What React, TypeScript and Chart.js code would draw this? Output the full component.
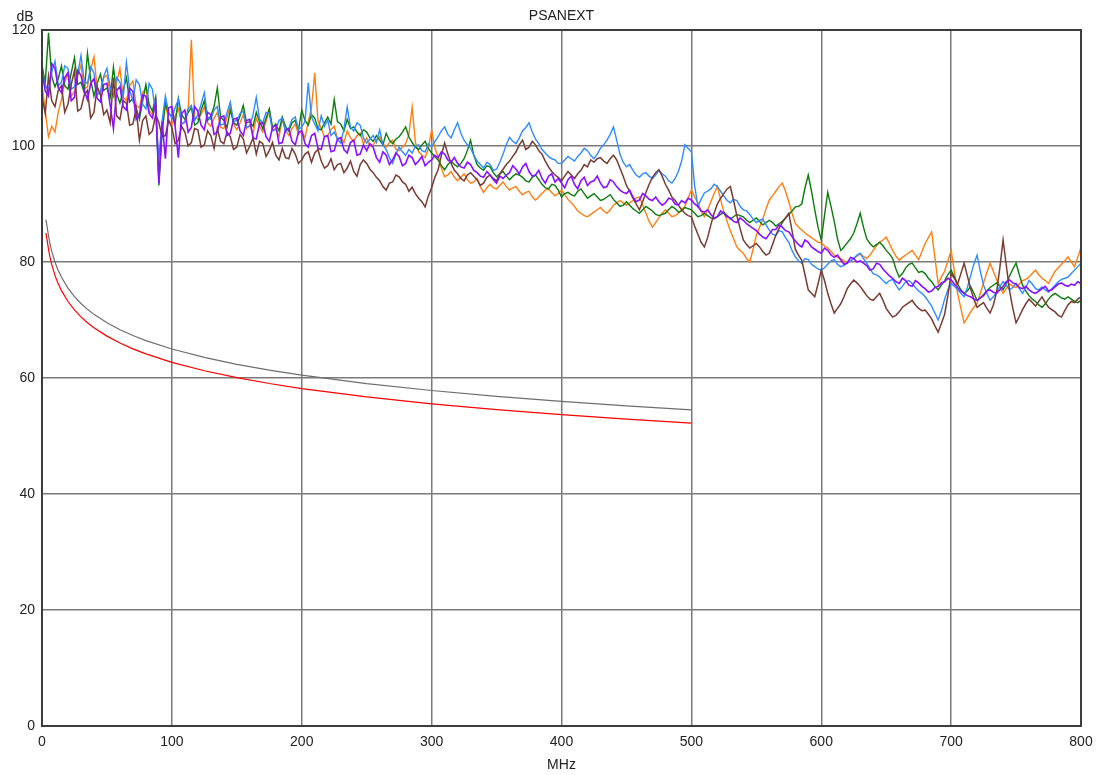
import { useEffect, useRef } from "react";
import { Chart, registerables } from "chart.js";

Chart.register(...registerables);

// ---- data ----
const STEP_MHZ = 2.5; // series sampled every 2.5 MHz from 0 to 800 MHz

const PURPLE = [
  112.8, 109.5, 108.6, 114.2, 113.4, 110.0, 109.2, 111.8, 112.6, 107.8, 108.4, 113.0, 112.2, 109.6, 108.0, 110.8, 111.6, 108.2, 107.6, 110.6,
  110.8, 107.0, 103.0, 109.6, 110.2, 106.8, 106.2, 110.0, 109.4, 104.6, 105.4, 108.8, 108.6, 105.6, 104.8, 107.4, 93.6, 104.2, 97.8, 106.6,
  106.8, 103.4, 98.0, 105.6, 106.2, 102.4, 103.2, 106.8, 106.0, 103.6, 102.8, 105.8, 105.4, 102.0, 102.4, 105.0, 105.2, 101.8, 102.2, 104.6,
  104.8, 102.6, 101.8, 104.4, 104.6, 101.4, 101.2, 103.8, 104.0, 101.6, 100.8, 103.2, 103.6, 100.4, 100.6, 102.8, 103.0, 100.8, 100.2, 102.4,
  102.6, 100.4, 99.8, 101.8, 102.2, 99.6, 99.4, 101.6, 101.8, 99.0, 99.2, 101.2, 101.4, 99.4, 98.8, 100.6, 101.0, 98.4, 98.6, 100.2,
  99.2, 100.4, 99.8, 98.0, 97.2, 99.0, 98.4, 96.8, 97.6, 98.8, 98.2, 96.6, 97.0, 98.4, 98.0, 96.8, 97.4, 98.2, 96.6, 97.2,
  97.6, 98.4, 98.0, 99.0, 98.6, 97.6, 97.2, 98.0, 97.0, 96.4, 96.2, 97.2, 96.8, 95.8, 95.4, 94.8, 94.6, 95.6, 95.0, 94.2,
  93.6, 94.8, 94.4, 95.0, 95.4, 96.6, 96.0, 95.2, 96.4, 97.0, 95.6, 94.8, 95.0, 95.8, 94.4, 93.6, 94.8, 95.2, 93.8, 94.4,
  93.6, 92.8, 94.2, 94.8, 93.4, 92.6, 94.0, 94.6, 93.2, 93.8, 94.0, 94.8, 93.6, 92.8, 93.0, 94.2, 93.8, 93.0, 92.4, 92.0,
  91.8, 92.4, 91.2, 90.4, 90.7, 91.8, 91.4, 90.8, 90.6, 91.2, 90.4, 89.8, 90.2, 91.0, 90.8, 90.0, 89.8, 90.6, 90.2, 91.0,
  90.7, 90.0, 89.6, 88.8, 88.6, 89.0, 88.2, 87.6, 87.8, 88.8, 88.4, 87.8, 87.6, 87.0, 86.8, 87.6, 87.2, 86.6, 86.2, 85.8,
  85.4, 84.8, 84.3, 84.0, 84.8, 85.6, 85.6, 86.4, 86.0, 85.4, 85.2, 84.4, 83.6, 83.0, 82.6, 83.8, 83.4, 82.6, 82.2, 81.8,
  81.5, 82.4, 82.0, 81.2, 80.8, 81.2, 80.4, 79.6, 79.8, 80.8, 80.6, 80.0, 80.2, 79.8, 79.4, 78.6, 78.8, 79.8, 79.6, 78.8,
  78.2, 77.6, 77.2, 76.6, 76.3, 77.2, 76.8, 76.0, 75.8, 76.8, 76.4, 75.8, 75.4, 74.8, 75.0, 75.6, 75.8, 76.4, 76.6, 77.2,
  76.9, 76.2, 75.6, 75.0, 74.6, 74.2, 74.0, 73.6, 73.4, 73.8, 74.2, 75.0, 75.2, 74.8, 74.6, 75.2, 75.8, 76.6, 76.9, 76.4,
  76.2, 75.6, 75.4, 75.8, 75.2, 74.8, 74.6, 75.0, 75.4, 75.8, 75.0, 75.2, 75.7, 76.2, 76.4, 76.0, 75.8, 76.2, 76.0, 76.6,
  76.3,
];

const BROWN = [
  108.5, 105.6, 112.0, 107.8, 106.8, 109.6, 110.4, 105.8, 107.2, 110.6, 113.0, 106.0, 106.4, 108.8, 109.6, 104.8, 105.8, 110.2, 108.8, 105.4,
  106.2, 104.0, 111.8, 105.2, 104.6, 107.8, 107.4, 103.6, 103.8, 106.4, 101.0, 104.4, 105.2, 102.0, 102.6, 105.4, 104.0, 101.6, 101.8, 104.4,
  103.2, 100.4, 101.0, 103.4, 102.4, 100.0, 100.6, 103.0, 102.8, 99.8, 100.2, 102.6, 101.8, 99.6, 103.0, 100.8, 100.4, 102.4, 101.6, 99.4,
  99.8, 102.0, 101.2, 98.8, 100.0, 101.4, 98.6, 100.8, 100.4, 98.2, 99.2, 100.6, 98.4, 97.6, 99.6, 98.0, 97.8, 99.6, 98.6, 97.0,
  97.6, 98.6, 99.0, 97.2, 98.8, 99.4, 97.4, 96.2, 96.6, 97.8, 95.9, 96.8, 97.0, 95.4, 96.2, 97.4, 95.6, 94.8, 96.8, 97.6,
  97.0, 96.0, 95.4, 94.6, 94.0, 93.0, 92.4, 93.6, 93.8, 95.0, 94.7, 93.8, 93.4, 92.2, 92.9, 91.8, 91.0, 90.4, 89.5, 91.4,
  92.8, 94.6, 95.9, 98.4, 100.5, 98.6, 97.0, 95.8, 95.2, 94.4, 94.0, 95.0, 95.4, 94.8, 94.2, 93.2, 93.6, 94.6, 95.0, 94.4,
  94.0, 95.2, 96.0, 96.8, 97.4, 98.2, 99.0, 100.2, 101.0, 99.4, 99.8, 100.8, 100.2, 99.2, 98.6, 97.4, 96.4, 95.6, 95.0, 94.6,
  94.0, 94.8, 95.6, 95.0, 94.4, 95.2, 95.8, 96.8, 96.4, 97.6, 97.2, 97.8, 98.0, 97.4, 97.0, 97.8, 98.4, 97.6, 96.2, 94.8,
  93.2, 92.2, 91.0, 90.0, 89.0, 90.4, 92.0, 93.4, 94.6, 95.4, 95.9, 94.8, 93.4, 92.4, 91.2, 90.6, 89.8, 89.0, 88.4, 88.0,
  87.8, 86.2, 84.8, 83.4, 82.6, 84.2, 86.4, 88.4, 90.0, 91.0, 91.8, 92.6, 93.0, 90.6, 88.0, 85.8, 83.8, 83.0, 82.4, 82.8,
  83.2, 82.6, 81.8, 81.2, 81.5, 83.0, 84.6, 85.8, 86.8, 87.6, 88.4, 85.4, 82.2, 81.2, 80.3, 77.8, 75.2, 74.6, 74.0, 76.2,
  78.6, 76.8, 74.6, 72.8, 71.2, 72.0, 72.8, 74.0, 75.4, 76.2, 76.9, 76.4, 75.8, 75.0, 74.2, 73.6, 73.4, 74.0, 74.6, 73.4,
  72.0, 71.2, 70.5, 70.8, 71.4, 72.2, 72.6, 73.0, 73.4, 72.6, 72.0, 71.6, 71.7, 71.0, 70.2, 69.0, 67.9, 69.4, 71.0, 74.2,
  78.0, 77.2, 76.2, 78.0, 79.8, 77.6, 75.4, 73.6, 72.2, 72.6, 73.0, 72.0, 71.2, 72.6, 74.8, 79.0, 83.8, 79.4, 75.0, 72.0,
  69.5, 70.6, 71.8, 72.8, 73.6, 73.0, 72.4, 73.2, 74.0, 73.0, 72.2, 71.8, 71.4, 70.8, 70.5, 71.6, 72.6, 73.2, 73.0, 73.6,
  74.0,
];

const BLUE = [
  113.0, 110.6, 109.4, 112.8, 114.6, 110.4, 111.0, 113.8, 113.4, 109.8, 110.2, 112.4, 115.6, 111.2, 110.8, 113.6, 112.6, 108.8, 109.4, 112.0,
  113.4, 110.2, 108.6, 111.8, 111.0, 108.4, 114.4, 109.6, 107.8, 111.4, 110.6, 107.2, 106.4, 110.8, 109.8, 105.6, 98.0, 104.4, 108.6, 105.8,
  104.8, 106.6, 108.0, 103.8, 104.2, 106.4, 107.0, 104.4, 105.4, 107.2, 109.2, 105.0, 104.6, 106.2, 106.8, 103.6, 103.8, 105.8, 107.6, 104.2,
  104.4, 105.6, 106.0, 103.2, 103.4, 105.4, 108.4, 104.6, 104.0, 105.8, 105.6, 102.6, 102.8, 104.4, 104.8, 102.4, 103.0, 104.6, 105.0, 102.8,
  103.3, 104.2, 110.9, 105.0, 103.8, 102.6, 105.2, 103.4, 104.5, 101.8, 102.4, 101.2, 100.5, 103.0, 106.7, 103.2, 102.6, 104.0, 103.6, 101.4,
  100.5, 101.2, 101.8, 100.6, 102.8, 100.2, 99.4, 98.0, 97.0, 98.6, 99.8, 99.0, 98.4, 99.4, 98.8, 100.0, 100.2, 99.2, 99.0, 100.4,
  99.8, 100.8, 101.6, 102.6, 103.3, 102.0, 101.4, 102.8, 104.0, 102.2, 101.0, 100.2, 99.6, 98.4, 97.4, 96.8, 96.2, 97.2, 96.8, 95.8,
  96.0, 97.2, 98.6, 100.2, 101.5, 100.8, 100.4, 101.4, 102.6, 103.2, 104.0, 102.4, 101.2, 100.4, 99.4, 98.8, 98.2, 97.8, 97.6, 97.0,
  97.0, 97.6, 98.2, 97.8, 97.4, 98.2, 98.8, 99.6, 99.2, 98.4, 97.8, 98.6, 99.6, 100.2, 101.0, 102.0, 103.3, 101.0, 98.6, 97.2,
  96.4, 96.8, 95.8, 95.0, 94.6, 95.2, 95.4, 94.8, 94.4, 95.0, 95.8, 95.2, 94.8, 94.0, 93.6, 94.4, 95.6, 97.4, 100.2, 99.6,
  99.0, 93.2, 89.6, 90.8, 91.9, 92.2, 92.6, 93.4, 93.0, 92.2, 91.4, 90.6, 90.2, 90.8, 90.6, 89.6, 89.0, 88.8, 88.2, 87.4,
  86.8, 87.2, 87.4, 86.4, 85.5, 84.8, 84.6, 85.4, 85.2, 84.2, 83.4, 82.0, 80.9, 80.2, 79.8, 80.6, 80.4, 79.6, 79.2, 78.8,
  78.6, 79.0, 79.6, 80.2, 80.4, 79.6, 79.2, 79.4, 79.8, 80.2, 80.6, 81.2, 81.5, 80.6, 79.8, 78.8, 78.0, 77.8, 77.4, 76.8,
  76.3, 76.8, 77.0, 76.0, 75.2, 75.8, 76.6, 76.8, 76.3, 75.6, 75.0, 74.6, 74.0, 73.2, 72.4, 71.2, 70.0, 71.6, 73.6, 75.2,
  76.3, 75.8, 75.2, 74.6, 74.0, 75.6, 77.6, 79.6, 81.2, 78.4, 76.0, 74.6, 73.4, 74.0, 74.8, 75.8, 76.6, 76.0, 75.2, 75.6,
  76.3, 75.4, 74.6, 75.6, 76.8, 76.2, 75.4, 75.2, 75.7, 75.2, 74.8, 75.4, 76.0, 76.6, 77.0, 77.2, 77.4, 78.0, 78.6, 79.2,
  79.8,
];

const GREEN = [
  114.0, 110.8, 119.5, 112.0, 110.2, 111.6, 113.8, 110.4, 109.8, 112.6, 115.2, 110.6, 111.0, 109.2, 116.0, 111.4, 108.6, 110.8, 112.4, 109.6,
  110.0, 108.4, 113.6, 109.0, 107.4, 109.6, 111.8, 107.6, 108.2, 106.6, 104.6, 107.8, 110.6, 107.2, 106.0, 108.4, 93.2, 102.4, 107.4, 105.6,
  105.2, 103.8, 108.2, 105.4, 104.6, 105.8, 106.6, 103.6, 104.0, 106.2, 107.8, 104.4, 105.2, 106.8, 110.0, 105.0, 104.4, 103.2, 106.2, 104.0,
  103.6, 105.2, 107.0, 104.0, 104.2, 103.4, 105.8, 104.2, 103.0, 104.8, 106.4, 103.2, 103.8, 102.6, 105.0, 103.4, 102.6, 104.0, 104.4, 102.8,
  106.2, 104.4, 103.6, 105.4, 104.8, 103.0, 102.8, 104.0, 105.0, 103.8, 108.0, 104.2, 103.8, 102.6, 104.6, 103.0, 103.3, 102.4, 101.8, 102.8,
  102.4, 101.4, 100.8, 101.8, 101.0, 100.2, 102.2, 101.0, 100.4, 101.2, 101.6, 102.4, 103.3, 101.6, 100.6, 99.8, 99.4, 100.2, 100.8, 99.6,
  98.8, 98.2, 97.6, 96.6, 95.9, 96.8, 97.4, 96.8, 96.4, 97.0, 97.8, 99.2, 101.0, 98.4, 96.8, 96.2, 95.8, 96.6, 96.4, 95.4,
  94.7, 95.2, 95.6, 94.8, 94.2, 94.8, 95.2, 95.0, 94.6, 94.0, 93.8, 94.6, 95.0, 94.2, 93.4, 92.8, 92.6, 93.4, 93.2, 92.4,
  91.2, 91.8, 92.0, 91.6, 91.4, 92.2, 92.6, 91.8, 91.0, 91.4, 91.8, 91.2, 90.6, 90.8, 91.2, 91.6, 90.8, 90.2, 89.6, 89.8,
  90.4, 89.8, 89.2, 88.8, 88.4, 89.0, 89.6, 89.2, 88.8, 88.2, 88.0, 88.2, 88.4, 89.0, 89.6, 89.2, 88.6, 88.8, 89.4, 89.2,
  89.0, 88.4, 87.8, 88.0, 88.4, 88.0, 87.6, 87.4, 87.8, 88.2, 88.6, 88.0, 87.4, 87.8, 88.2, 88.0, 87.8, 87.2, 86.8, 87.2,
  87.6, 87.0, 86.4, 86.8, 87.2, 86.8, 86.2, 86.6, 87.0, 87.6, 88.2, 88.8, 89.5, 89.6, 90.0, 92.8, 95.0, 92.2, 89.0, 86.0,
  83.8, 88.0, 92.0, 89.6, 87.0, 84.0, 82.0, 82.6, 83.3, 84.0, 85.0, 86.6, 88.4, 86.0, 84.0, 83.2, 82.6, 83.0, 83.4, 82.8,
  82.0, 81.4, 80.6, 78.8, 77.4, 78.0, 79.0, 79.6, 79.8, 79.0, 78.2, 78.4, 78.0, 77.2, 76.6, 75.8, 75.2, 76.0, 76.8, 77.8,
  78.6, 77.4, 76.2, 75.2, 74.6, 75.0, 75.8, 74.6, 73.4, 73.8, 74.4, 75.0, 75.6, 76.0, 76.4, 75.8, 75.2, 76.2, 77.6, 78.8,
  79.8, 77.8, 76.0, 75.0, 74.2, 73.6, 73.2, 72.6, 72.2, 72.8, 73.6, 74.2, 74.6, 74.2, 73.8, 73.6, 74.0, 73.6, 73.2, 73.0,
  73.4,
];

const ORANGE = [
  110.6, 106.0, 101.6, 103.4, 102.4, 105.8, 108.0, 111.0, 112.6, 108.6, 109.4, 112.0, 114.0, 109.8, 110.2, 113.2, 115.4, 110.0, 109.0, 111.8,
  112.2, 109.2, 108.6, 111.0, 113.4, 108.4, 107.8, 110.4, 111.2, 107.0, 106.6, 109.2, 110.0, 106.2, 105.4, 108.0, 94.2, 103.0, 107.2, 104.6,
  103.6, 105.2, 106.4, 103.8, 104.0, 106.0, 118.3, 105.0, 104.6, 105.4, 106.8, 104.0, 103.4, 104.8, 105.8, 103.2, 103.0, 105.0, 107.0, 103.8,
  102.8, 104.0, 105.4, 103.0, 103.6, 102.2, 104.8, 103.4, 102.4, 104.2, 106.2, 102.8, 103.0, 101.6, 104.6, 102.8, 101.8, 103.0, 103.8, 102.0,
  102.6, 101.4, 104.2, 106.6, 112.6, 104.4, 103.0, 101.6, 101.8, 102.8, 103.4, 101.2, 101.5, 100.6, 102.6, 101.4, 100.8, 101.8, 102.2, 100.4,
  101.4, 100.0, 100.2, 101.0, 101.6, 100.4, 99.8, 100.6, 101.0, 99.4, 99.2, 99.8, 100.4, 102.0, 106.7, 100.6, 99.0, 98.4, 98.0, 99.6,
  102.8, 99.6, 98.2, 96.2, 94.7, 95.0, 95.6, 94.6, 94.0, 94.6, 95.2, 94.2, 93.6, 93.8, 94.4, 93.0, 92.0, 92.8, 93.4, 92.8,
  92.6, 93.2, 93.8, 93.0, 92.4, 92.8, 93.0, 92.2, 91.6, 92.0, 92.2, 91.2, 90.7, 91.2, 91.8, 92.4, 92.6, 92.0, 91.4, 91.8,
  92.4, 91.6, 90.8, 90.2, 89.6, 88.8, 88.4, 88.0, 87.8, 88.2, 88.6, 89.0, 89.4, 88.8, 88.4, 89.0, 89.8, 90.2, 90.6, 90.2,
  89.8, 90.2, 90.6, 91.0, 91.2, 89.8, 88.4, 87.0, 86.0, 86.8, 87.6, 88.4, 89.0, 88.4, 87.8, 88.0, 88.4, 89.0, 89.6, 91.0,
  92.4, 91.2, 90.2, 88.8, 87.8, 89.0, 90.4, 91.8, 93.0, 90.8, 88.6, 87.0, 85.4, 84.0, 82.6, 82.0, 81.5, 80.6, 80.0, 82.2,
  84.6, 86.0, 87.4, 89.2, 90.7, 91.4, 92.2, 93.0, 93.6, 92.2, 90.4, 88.4, 86.7, 86.0, 85.5, 85.0, 84.6, 84.2, 83.8, 83.4,
  83.3, 82.8, 82.4, 81.8, 81.2, 80.8, 80.6, 80.2, 79.8, 80.2, 80.6, 81.0, 81.4, 81.0, 80.6, 81.2, 82.0, 82.8, 83.4, 83.8,
  84.3, 83.2, 82.0, 81.0, 80.3, 80.8, 81.2, 81.6, 82.0, 81.2, 80.4, 81.8, 83.2, 84.2, 85.2, 80.8, 76.3, 77.4, 78.4, 80.2,
  82.0, 78.4, 74.6, 72.0, 69.5, 70.4, 71.4, 72.2, 72.9, 74.6, 76.4, 78.2, 79.8, 78.4, 77.0, 75.8, 74.6, 75.4, 76.2, 75.8,
  75.6, 76.2, 76.8, 77.0, 77.4, 78.0, 78.6, 77.8, 77.2, 76.8, 76.3, 77.4, 78.4, 79.0, 79.6, 80.2, 80.9, 80.0, 79.2, 80.8,
  82.6,
];

const LIMIT_FREQ = [3, 4, 5, 6, 7, 8, 10, 12, 15, 20, 25, 30, 35, 40, 50, 60, 70, 80, 100, 125, 150, 175, 200, 250, 300, 350, 400, 450, 500];
const LIMIT_GRAY = [87.3, 85.97, 84.51, 83.3, 82.32, 81.45, 80.0, 78.81, 77.36, 75.49, 74.03, 72.84, 71.84, 70.97, 69.52, 68.33, 67.32, 66.45, 65.0, 63.55, 62.36, 61.35, 60.48, 59.03, 57.84, 56.84, 55.97, 55.2, 54.52];
const LIMIT_RED = [85.0, 83.67, 82.21, 81.0, 80.02, 79.15, 77.7, 76.51, 75.06, 73.19, 71.73, 70.54, 69.54, 68.67, 67.22, 66.03, 65.02, 64.15, 62.7, 61.25, 60.06, 59.05, 58.18, 56.73, 55.54, 54.54, 53.67, 52.9, 52.22];

const X_TICKS = [0, 100, 200, 300, 400, 500, 600, 700, 800];
const Y_TICKS = [0, 20, 40, 60, 80, 100, 120];

const TITLE = "PSANEXT";
const Y_UNIT = "dB";
const X_UNIT = "MHz";

// ---- layout ----
const W = 1101;
const H = 775;
const LEFT = 42;
const TOP = 30;
const RIGHT = 1081;
const BOTTOM = 726;
const FONT = '"Liberation Sans", Arial, Helvetica, sans-serif';

const toPoints = (vals: number[]) => vals.map((v, i) => ({ x: i * STEP_MHZ, y: v }));
const toLimit = (vals: number[]) => vals.map((v, i) => ({ x: LIMIT_FREQ[i], y: v }));

const framePlugin = {
  id: "frameAndTexts",
  afterDraw(chart: any) {
    const { ctx, chartArea } = chart;
    const { left, top, right, bottom } = chartArea;
    ctx.save();
    ctx.strokeStyle = "#3c3c3c";
    ctx.lineWidth = 2;
    ctx.strokeRect(left, top, right - left, bottom - top);
    ctx.fillStyle = "#222";
    ctx.font = `14px ${FONT}`;
    ctx.textAlign = "center";
    ctx.textBaseline = "middle";
    ctx.fillText(TITLE, (left + right) / 2, 16);
    ctx.fillText(Y_UNIT, 25, 17);
    ctx.fillText(X_UNIT, (left + right) / 2, 765);
    ctx.restore();
  },
};

export default function App() {
  const ref = useRef<HTMLCanvasElement | null>(null);

  useEffect(() => {
    if (!ref.current) return;
    const line = (label: string, data: any[], color: string, width = 1.4) => ({
      label,
      data,
      borderColor: color,
      backgroundColor: color,
      borderWidth: width,
      pointRadius: 0,
      tension: 0,
      fill: false,
    });
    const chart = new Chart(ref.current, {
      type: "line",
      data: {
        datasets: [
          line("Pair 5", toPoints(PURPLE), "#8a10ff", 1.6),
          line("Pair 4", toPoints(BROWN), "#7a3b32", 1.5),
          line("Pair 3", toPoints(BLUE), "#2f8cff"),
          line("Pair 2", toPoints(GREEN), "#0a7d0a"),
          line("Pair 1", toPoints(ORANGE), "#ff7f10"),
          line("Limit", toLimit(LIMIT_GRAY), "#6e6e6e", 1.2),
          line("Limit 2", toLimit(LIMIT_RED), "#ff0000", 1.2),
        ],
      },
      options: {
        animation: false,
        responsive: false,
        maintainAspectRatio: false,
        devicePixelRatio: 1,
        layout: { padding: { top: TOP, right: W - RIGHT, left: 0, bottom: 0 } },
        plugins: {
          legend: { display: false },
          title: { display: false },
          tooltip: { enabled: false },
        },
        scales: {
          x: {
            type: "linear",
            min: 0,
            max: 800,
            afterBuildTicks: (s: any) => {
              s.ticks = X_TICKS.map((v) => ({ value: v }));
            },
            afterFit: (s: any) => {
              s.height = H - BOTTOM;
            },
            ticks: {
              autoSkip: false,
              maxRotation: 0,
              padding: 8,
              color: "#222",
              font: { family: FONT, size: 14 },
            },
            grid: { color: "#7a7a7a", lineWidth: 1.5, drawTicks: false },
            border: { color: "#3c3c3c", width: 2 },
          },
          y: {
            type: "linear",
            min: 0,
            max: 120,
            afterBuildTicks: (s: any) => {
              s.ticks = Y_TICKS.map((v) => ({ value: v }));
            },
            afterFit: (s: any) => {
              s.width = LEFT;
            },
            ticks: {
              autoSkip: false,
              padding: 7,
              color: "#222",
              font: { family: FONT, size: 14 },
            },
            grid: { color: "#7a7a7a", lineWidth: 1.5, drawTicks: false },
            border: { color: "#3c3c3c", width: 2 },
          },
        },
      },
      plugins: [framePlugin],
    });
    return () => chart.destroy();
  }, []);

  return (
    <canvas
      ref={ref}
      width={W}
      height={H}
      style={{ position: "fixed", left: 0, top: 0, width: W, height: H, display: "block", background: "#fff" }}
    />
  );
}
